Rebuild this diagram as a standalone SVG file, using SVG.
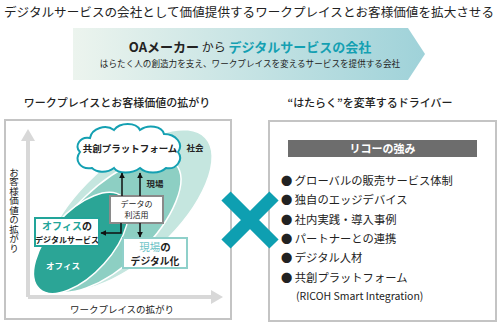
<svg xmlns="http://www.w3.org/2000/svg" width="499" height="324" viewBox="0 0 499 324">
<defs>
<linearGradient id="bannerGrad" x1="0" y1="0" x2="1" y2="0">
<stop offset="0" stop-color="#ecf4ee"/>
<stop offset="1" stop-color="#9fd2d9"/>
</linearGradient>
<marker id="ah" viewBox="0 0 10 10" refX="9" refY="5" markerWidth="4" markerHeight="4" orient="auto-start-reverse">
<path d="M0,0 L10,5 L0,10 Z" fill="#111"/>
</marker>
</defs>
<style>
text{font-family:"Noto Sans CJK JP","Noto Sans",sans-serif;fill:#222}
.title{font-size:12.5px}
.head{font-size:11px;font-weight:500}
.bul{font-size:11.3px}
.teal{fill:#14a0b2}
.box{fill:#fff;stroke-width:2}
.axis{stroke:#d8d8d8;stroke-width:4;fill:none}
.conn{stroke:#111;stroke-width:1.5;fill:none}
.lbl{font-size:8.5px;font-weight:700}
</style>
<rect width="499" height="324" fill="#fff"/>

<g id="title">
<text class="title" x="4" y="17" textLength="490" lengthAdjust="spacingAndGlyphs">デジタルサービスの会社として価値提供するワークプレイスとお客様価値を拡大させる</text>
</g>

<g id="banner">
<polygon points="73,28 408,28 425,54 408,80 73,80" fill="url(#bannerGrad)"/>
<text x="250" y="52" text-anchor="middle" style="font-size:13px"><tspan font-weight="700">OAメーカー</tspan><tspan style="font-size:12px"> から </tspan><tspan class="teal" font-weight="700">デジタルサービスの会社</tspan></text>
<text x="250" y="67" text-anchor="middle" style="font-size:8.6px">はらたく人の創造力を支え、ワークプレイスを変えるサービスを提供する会社</text>
</g>

<g id="left-heading"><text class="head" x="117" y="107" text-anchor="middle">ワークプレイスとお客様価値の拡がり</text></g>
<g id="right-heading"><text class="head" x="370" y="107" text-anchor="middle">“はたらく”を変革するドライバー</text></g>

<g id="left-panel">
<rect x="5" y="120" width="226" height="199" fill="#fff" stroke="#c4c4c4" stroke-width="2"/>
<line class="axis" x1="28" y1="297" x2="28" y2="140"/>
<polygon points="28,129 21,141 35,141" fill="#d8d8d8"/>
<line class="axis" x1="28" y1="297" x2="212" y2="297"/>
<polygon points="223,297 211,290 211,304" fill="#d8d8d8"/>
<text x="14" y="210" text-anchor="middle" style="font-size:9.5px;writing-mode:vertical-rl">お客様価値の拡がり</text>
<text x="122" y="313" text-anchor="middle" style="font-size:9.5px">ワークプレイスの拡がり</text>
</g>

<g id="society">
<ellipse cx="128" cy="210" rx="106" ry="48" transform="rotate(-43 128 210)" fill="#c5e6df" stroke="#fff" stroke-width="1.5"/>
<text class="lbl" x="195" y="151" text-anchor="middle">社会</text>
</g>
<g id="field">
<ellipse cx="112" cy="225" rx="88" ry="39" transform="rotate(-44 112 225)" fill="#8dcfc3" stroke="#fff" stroke-width="1.5"/>
<text class="lbl" x="155" y="187" text-anchor="middle">現場</text>
</g>
<g id="office">
<ellipse cx="81" cy="243" rx="62" ry="31" transform="rotate(-48 81 243)" fill="#2ba596" stroke="#fff" stroke-width="1.5"/>
<text class="lbl" x="63" y="269" text-anchor="middle" style="fill:#fff">オフィス</text>
</g>

<g id="platform-cloud">
<path d="M92,168 C80,170 74,160 80,152 C74,146 80,136 90,138 C92,128 106,124 114,130 C120,122 136,122 140,130 C148,124 162,126 164,134 C176,134 184,144 178,152 C184,160 176,170 166,168 C160,174 146,174 140,168 C132,174 118,174 114,168 C106,174 96,172 92,168 Z" fill="#fff" stroke="#14a0b2" stroke-width="2"/>
<text x="130" y="152" text-anchor="middle" style="font-size:9.5px;font-weight:700">共創プラットフォーム</text>
</g>

<g id="data-box">
<rect class="box" x="110" y="196" width="53" height="27" stroke="#8a8a8a"/>
<text x="136.5" y="207" text-anchor="middle" style="font-size:8px">データの</text>
<text x="136.5" y="218" text-anchor="middle" style="font-size:8px">利活用</text>
</g>

<g id="office-box">
<rect class="box" x="35" y="218" width="64" height="28" stroke="#22a59a"/>
<text x="67" y="230" text-anchor="middle" style="font-size:10px"><tspan font-weight="700" style="fill:#22a59a">オフィス</tspan><tspan font-weight="700">の</tspan></text>
<text x="67" y="242.5" text-anchor="middle" style="font-size:8px;font-weight:700">デジタルサービス</text>
</g>

<g id="field-box">
<rect class="box" x="123" y="238" width="64" height="30" stroke="#8fd0ca"/>
<text x="155" y="250.5" text-anchor="middle" style="font-size:10.5px"><tspan style="fill:#6cc3c6">現場</tspan><tspan font-weight="700">の</tspan></text>
<text x="155" y="265.2" text-anchor="middle" style="font-size:9.8px;font-weight:700">デジタル化</text>
</g>

<g id="connectors">
<line class="conn" x1="122" y1="196" x2="122" y2="173" marker-end="url(#ah)"/>
<line class="conn" x1="140" y1="196" x2="140" y2="173" marker-end="url(#ah)"/>
<polyline class="conn" points="121,223 121,233 101,233" marker-end="url(#ah)"/>
<line class="conn" x1="140" y1="223" x2="140" y2="237" marker-end="url(#ah)"/>
</g>

<g id="right-panel">
<rect x="269" y="121" width="227" height="200" fill="#fff" stroke="#c4c4c4" stroke-width="2"/>
<rect x="288" y="140" width="189" height="17" fill="#6d6d6d"/>
<text x="382.5" y="152.5" text-anchor="middle" style="font-size:11px;font-weight:700;fill:#fff">リコーの強み</text>
<text class="bul" x="281" y="185">● グローバルの販売サービス体制</text>
<text class="bul" x="281" y="204">● 独自のエッジデバイス</text>
<text class="bul" x="281" y="224">● 社内実践・導入事例</text>
<text class="bul" x="281" y="243">● パートナーとの連携</text>
<text class="bul" x="281" y="262">● デジタル人材</text>
<text class="bul" x="281" y="282">● 共創プラットフォーム</text>
<text class="bul" x="296" y="300" style="font-size:10.5px">(RICOH Smart Integration)</text>
</g>

<g id="cross">
<path d="M226,196 L274,244 M274,196 L226,244" stroke="#0e9fb1" stroke-width="13" fill="none"/>
</g>
</svg>
